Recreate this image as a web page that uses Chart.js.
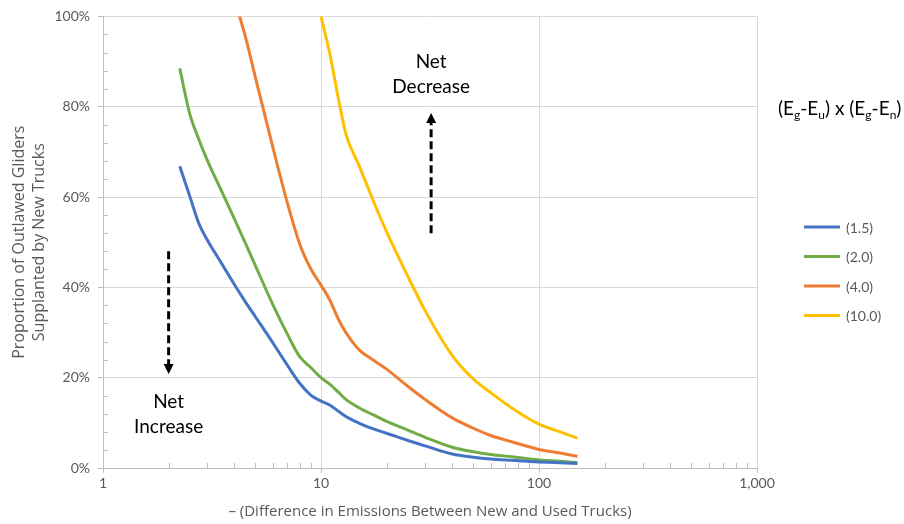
<!DOCTYPE html>
<html><head><meta charset="utf-8">
<script src="https://cdn.jsdelivr.net/npm/chart.js@4.4.0/dist/chart.umd.min.js"></script>
<style>
html,body{margin:0;padding:0;background:#fff;}
#wrap{position:relative;width:904px;height:524px;}
#legendTitle{position:absolute;left:778px;top:96px;font:19px Lato, sans-serif;color:#000;white-space:nowrap;}
#legendTitle sub{font-size:12px;vertical-align:-4px;line-height:0;}
</style></head><body>
<div id="wrap"><canvas id="c" width="904" height="524"></canvas>
<div id="legendTitle">(E<sub>g</sub>-E<sub>u</sub>) x (E<sub>g</sub>-E<sub>n</sub>)</div></div>
<script>
// x: difference in emissions (log scale)
const xValues   = [2.25, 2.5, 2.75, 3, 3.5, 4, 4.5, 5, 6, 7, 8, 9, 10, 11, 12, 13, 15, 17.5, 20, 25, 30, 40, 50, 60, 75, 100, 125, 150];
// y: proportion (%) for each (Eg-Eu) x (Eg-En) value
const series1_5 = [66.8, 60.2, 54.2, 50.6, 45.3, 40.7, 36.8, 33.5, 27.8, 22.8, 18.7, 16.1, 14.8, 13.9, 12.6, 11.4, 9.9, 8.6, 7.7, 6.1, 4.9, 3.1, 2.4, 2.0, 1.7, 1.35, 1.15, 1.0];
const series2_0 = [88.5, 78.4, 72.8, 68.3, 61.3, 55.2, 49.8, 44.8, 36.3, 29.7, 24.6, 22.2, 20.0, 18.5, 16.8, 15.2, 13.3, 11.7, 10.3, 8.4, 6.8, 4.6, 3.6, 3.0, 2.5, 1.8, 1.5, 1.2];
const series4_0 = [null, null, null, null, null, 104, 95.5, 86.5, 71.2, 58.8, 49.5, 44.0, 40.5, 37.1, 33.0, 30.0, 26.1, 23.8, 21.9, 18.1, 15.2, 11.1, 8.8, 7.2, 5.8, 4.1, 3.3, 2.6];
const series10  = [null, null, null, null, null, null, null, null, null, null, null, null, 100, 91.5, 82.0, 74.0, 66.8, 58.8, 52.3, 42.5, 34.9, 24.9, 19.7, 16.7, 13.3, 9.7, 8.0, 6.6];
const seriesLabels = ['(1.5)', '(2.0)', '(4.0)', '(10.0)'];
const seriesColors = ['#4472C4', '#70AD47', '#ED7D31', '#FFC000'];
const xTickLabels = [1, 10, 100, 1000];
const yTickStep = 20;

// annotation anchors in data units
const netDecrease = {x: 32, textY: [90, 84.5], arrowFrom: 52, arrowTo: 78.6, lines: ['Net', 'Decrease']};
const netIncrease = {x: 2, textY: [14.6, 9], arrowFrom: 48, arrowTo: 20.8, lines: ['Net', 'Increase']};

const FONT = 'Lato, "Open Sans", sans-serif';
const TFONT = '"Open Sans", Lato, sans-serif';
const GRAY = '#595959';

function pts(arr){ return xValues.map((x,i)=>({x:x, y:arr[i]})).filter(p=>p.y!==null); }
const allSeries = [series1_5, series2_0, series4_0, series10];

const datasets = allSeries.map((s,i)=>({
  label: seriesLabels[i],
  data: pts(s),
  borderColor: seriesColors[i],
  backgroundColor: seriesColors[i],
  borderWidth: 3,
  pointRadius: 0,
  fill: false,
  cubicInterpolationMode: 'monotone'
}));

function isMajorX(v){ const l = Math.log10(v); return Math.abs(l - Math.round(l)) < 1e-9; }

const extras = {
  id: 'extras',
  afterDraw(chart){
    const ctx = chart.ctx, xs = chart.scales.x, ys = chart.scales.y, ca = chart.chartArea;
    ctx.save();
    // minor ticks (inside)
    ctx.strokeStyle = '#bfbfbf'; ctx.lineWidth = 1;
    ctx.beginPath();
    for (let d = 1; d < 1000; d *= 10) {
      for (let k = 2; k <= 9; k++) {
        const px = Math.round(xs.getPixelForValue(d*k)) + 0.5;
        ctx.moveTo(px, ca.bottom); ctx.lineTo(px, ca.bottom - 5);
      }
    }
    for (let v = 0; v <= 100; v += 4) {
      if (v % yTickStep === 0) continue;
      const py = Math.round(ys.getPixelForValue(v)) + 0.5;
      ctx.moveTo(ca.left, py); ctx.lineTo(ca.left + 5, py);
    }
    ctx.stroke();

    // annotations
    function arrow(a){
      const x = xs.getPixelForValue(a.x);
      const y1 = ys.getPixelForValue(a.arrowFrom), y2 = ys.getPixelForValue(a.arrowTo);
      const dir = y2 < y1 ? -1 : 1;
      const head = 10;
      ctx.strokeStyle = '#000'; ctx.fillStyle = '#000'; ctx.lineWidth = 3;
      ctx.setLineDash([8,4]);
      ctx.beginPath(); ctx.moveTo(x, y1); ctx.lineTo(x, y2 - dir*head); ctx.stroke();
      ctx.setLineDash([]);
      ctx.beginPath();
      ctx.moveTo(x, y2); ctx.lineTo(x-5, y2 - dir*head); ctx.lineTo(x+5, y2 - dir*head); ctx.closePath(); ctx.fill();
      ctx.font = '19px ' + FONT; ctx.textAlign = 'center'; ctx.textBaseline = 'middle';
      a.lines.forEach((t,i)=> ctx.fillText(t, x, ys.getPixelForValue(a.textY[i])));
    }
    arrow(netDecrease); arrow(netIncrease);

    // legend entries
    ctx.font = '14px ' + FONT; ctx.textAlign = 'left'; ctx.textBaseline = 'middle';
    chart.data.datasets.forEach((ds,i)=>{
      const y = 227 + i*29.5;
      ctx.strokeStyle = ds.borderColor; ctx.lineWidth = 3;
      ctx.beginPath(); ctx.moveTo(804, y); ctx.lineTo(840, y); ctx.stroke();
      ctx.fillStyle = GRAY; ctx.fillText(ds.label, 846, y + 1);
    });
    ctx.restore();
  }
};

new Chart(document.getElementById('c'), {
  type: 'line',
  data: { datasets },
  options: {
    responsive: false, animation: false, devicePixelRatio: 1,
    layout: { padding: { top: 15, right: 147, bottom: 0, left: 0 } },
    plugins: { legend: { display: false }, tooltip: { enabled: false } },
    scales: {
      x: {
        type: 'logarithmic', min: 1, max: 1000,
        afterFit(s){ s.height = 56; },
        border: { color: '#bfbfbf', width: 1 },
        grid: {
          color: c => (c.tick && isMajorX(c.tick.value)) ? '#d9d9d9' : 'rgba(0,0,0,0)',
          tickColor: c => (c.tick && isMajorX(c.tick.value)) ? '#bfbfbf' : 'rgba(0,0,0,0)',
          tickLength: 5, lineWidth: 1
        },
        ticks: {
          autoSkip: false, maxRotation: 0, padding: 2, color: GRAY,
          font: { family: FONT, size: 14 },
          callback: v => xTickLabels.includes(v) ? v.toLocaleString('en-US') : ''
        },
        title: { display: true, text: '– (Difference in Emissions Between New and Used Trucks)',
          color: GRAY, font: { family: TFONT, size: 15, lineHeight: 1.33 }, padding: { top: 0, bottom: 2 } }
      },
      y: {
        min: 0, max: 100,
        afterFit(s){ s.width = 103; },
        border: { color: '#bfbfbf', width: 1 },
        grid: { color: '#d9d9d9', tickColor: '#bfbfbf', tickLength: 5 },
        ticks: { stepSize: yTickStep, padding: 8, color: GRAY, font: { family: FONT, size: 14 },
          callback: v => v + '%' },
        title: { display: true, text: ['Proportion of Outlawed Gliders', 'Supplanted by New Trucks'],
          color: GRAY, font: { family: TFONT, size: 16, lineHeight: 1.25 }, padding: { top: 9, bottom: 0 } }
      }
    }
  },
  plugins: [extras]
});
</script></body></html>
